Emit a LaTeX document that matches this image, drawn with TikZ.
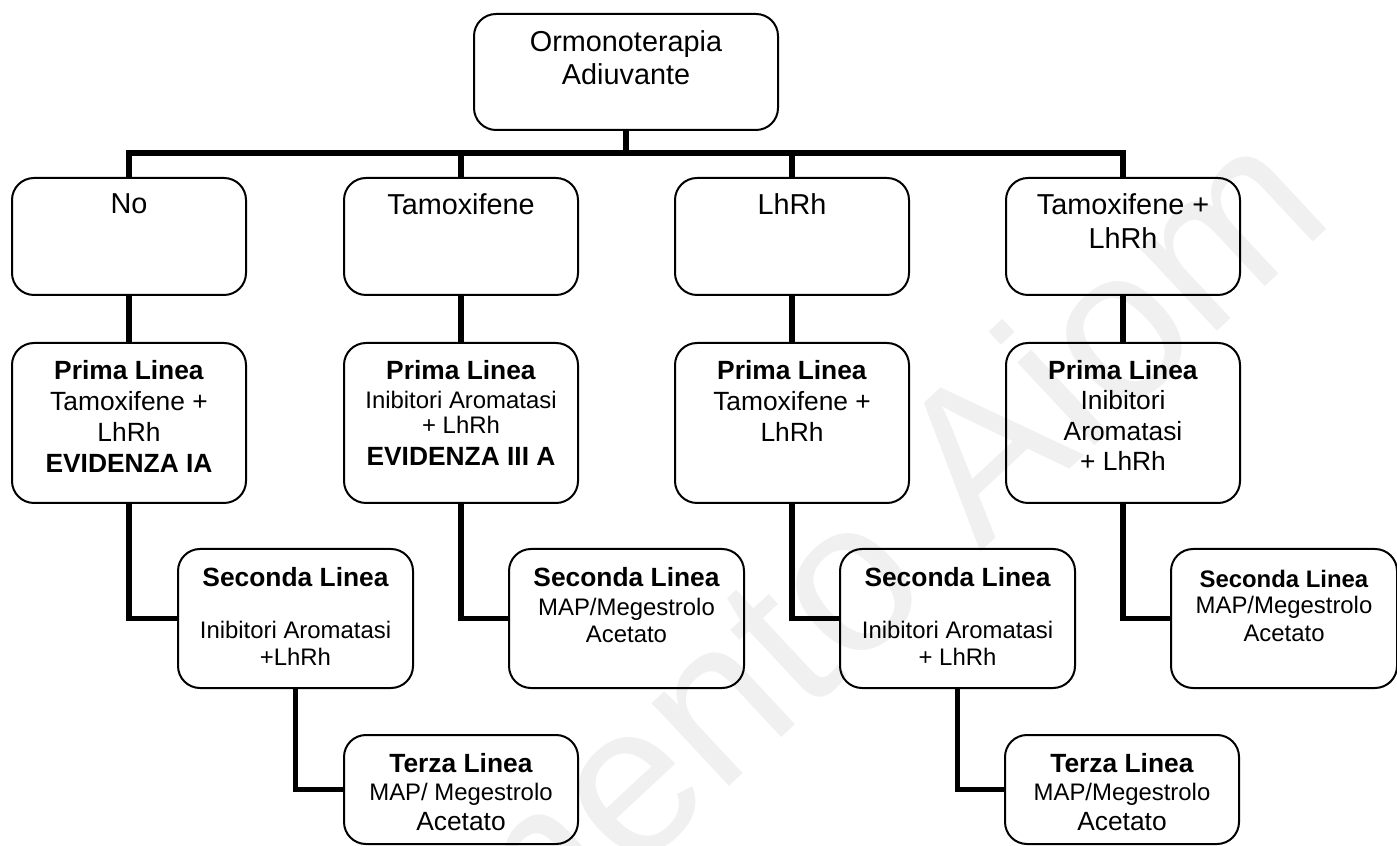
\documentclass[tikz,border=0pt]{standalone}
\usepackage{fontspec}
\setmainfont{Liberation Sans}
\usetikzlibrary{positioning}

\tikzset{
  box/.style={draw, line width=0.2mm, rounded corners=2.2mm, anchor=north west, inner sep=0pt},
  conn/.style={line width=0.55mm},
  lbl/.style={inner sep=0pt, align=center},
  txbig/.style={font=\fontsize{8.2}{9.5}\selectfont},
  txmid/.style={font=\fontsize{7.5}{8.8}\selectfont},
  txsml/.style={font=\fontsize{6.8}{7.7}\selectfont},
  wmark/.style={text=black!6, inner sep=0pt, font=\fontsize{61}{66}\selectfont}
}
\newcommand{\sm}{\fontsize{6.8}{7.7}\selectfont}
\newcommand{\hd}[1]{{\fontsize{7.5}{8.8}\selectfont\bfseries #1}}

\begin{document}
\begin{tikzpicture}[x=0.1mm, y=-0.1mm]
  \useasboundingbox (0,0) rectangle (1397,846);
  \node[wmark, rotate=43] (wm) at (684,724) {Documento Aiom};

  % boxes
  \node[box, minimum width=30.4mm, minimum height=11.6mm] (root) at (473,13) {};
  \node[box, minimum width=23.4mm, minimum height=11.7mm] (no) at (11,177) {};
  \node[box, minimum width=23.4mm, minimum height=11.7mm] (tam) at (343,177) {};
  \node[box, minimum width=23.4mm, minimum height=11.7mm] (lh) at (674,177) {};
  \node[box, minimum width=23.4mm, minimum height=11.7mm] (tl) at (1005,177) {};
  \node[box, minimum width=23.4mm, minimum height=16mm] (p1) at (11,342) {};
  \node[box, minimum width=23.4mm, minimum height=16mm] (p2) at (343,342) {};
  \node[box, minimum width=23.4mm, minimum height=16mm] (p3) at (674,342) {};
  \node[box, minimum width=23.4mm, minimum height=16mm] (p4) at (1005,342) {};
  \node[box, minimum width=23.5mm, minimum height=13.9mm] (s1) at (177,548) {};
  \node[box, minimum width=23.5mm, minimum height=13.9mm] (s2) at (508,548) {};
  \node[box, minimum width=23.5mm, minimum height=13.9mm] (s3) at (839,548) {};
  \node[box, minimum width=22.6mm, minimum height=13.9mm] (s4) at (1170,548) {};
  \node[box, minimum width=23.4mm, minimum height=10.9mm] (z1) at (343,734) {};
  \node[box, minimum width=23.4mm, minimum height=10.9mm] (z3) at (1004,734) {};

  % texts
  \node[lbl, txbig, font=\fontsize{8.2}{9.4}\selectfont, below=1.7mm of root.north] (root-t) {Ormonoterapia\\Adiuvante};
  \node[lbl, txbig, below=1.6mm of no.north] (no-t) {No};
  \node[lbl, txbig, below=1.6mm of tam.north] (tam-t) {Tamoxifene};
  \node[lbl, txbig, below=1.6mm of lh.north] (lh-t) {LhRh};
  \node[lbl, txbig, font=\fontsize{8.2}{9.7}\selectfont, below=1.6mm of tl.north] (tl-t) {Tamoxifene +\\LhRh};
  \node[lbl, txmid, below=1.8mm of p1.north] (p1-t) {\textbf{Prima Linea}\\Tamoxifene +\\LhRh\\\textbf{EVIDENZA IA}};
  \node[lbl, txmid, below=1.8mm of p2.north] (p2-t) {\textbf{Prima Linea}\\[-0.55pt]{\sm Inibitori Aromatasi}\\[-1.7pt]{\sm + LhRh}\\[0.3pt]\textbf{EVIDENZA III A}};
  \node[lbl, txmid, below=1.8mm of p3.north] (p3-t) {\textbf{Prima Linea}\\Tamoxifene +\\LhRh};
  \node[lbl, txmid, below=1.8mm of p4.north] (p4-t) {\textbf{Prima Linea}\\[-0.3pt]Inibitori\\Aromatasi\\[-0.3pt]+ LhRh};
  \node[lbl, txsml, below=1.85mm of s1.north] (s1-t) {\hd{Seconda Linea}\\[7.1pt]Inibitori Aromatasi\\+LhRh};
  \node[lbl, txsml, below=1.85mm of s2.north] (s2-t) {\hd{Seconda Linea}\\[0.55pt]MAP/Megestrolo\\Acetato};
  \node[lbl, txsml, below=1.85mm of s3.north] (s3-t) {\hd{Seconda Linea}\\[7.1pt]Inibitori Aromatasi\\+ LhRh};
  \node[lbl, txsml, below=2.1mm of s4.north] (s4-t) {\textbf{Seconda Linea}\\[-0.3pt]MAP/Megestrolo\\[0.5pt]Acetato};
  \node[lbl, txmid, font=\fontsize{7.5}{8.5}\selectfont, below=1.9mm of z1.north] (z1-t) {\textbf{Terza Linea}\\[-0.5pt]{\sm MAP/ Megestrolo}\\Acetato};
  \node[lbl, txmid, font=\fontsize{7.5}{8.5}\selectfont, below=1.9mm of z3.north] (z3-t) {\textbf{Terza Linea}\\[-0.5pt]{\sm MAP/Megestrolo}\\Acetato};

  % connectors
  \coordinate (bar) at (625,153);
  \draw[conn] (root.south) -- (root.south |- bar);
  \draw[conn] (no.north) -- (no.north |- bar) -- (tl.north |- bar) -- (tl.north);
  \draw[conn] (tam.north) -- (tam.north |- bar);
  \draw[conn] (lh.north) -- (lh.north |- bar);
  \draw[conn] (no.south) -- (p1.north);
  \draw[conn] (tam.south) -- (p2.north);
  \draw[conn] (lh.south) -- (p3.north);
  \draw[conn] (tl.south) -- (p4.north);
  \draw[conn] (p1.south) |- (s1.west);
  \draw[conn] (p2.south) |- (s2.west);
  \draw[conn] (p3.south) |- (s3.west);
  \draw[conn] (p4.south) |- (s4.west);
  \draw[conn] (s1.south) |- (z1.west);
  \draw[conn] (s3.south) |- (z3.west);
\end{tikzpicture}
\end{document}
